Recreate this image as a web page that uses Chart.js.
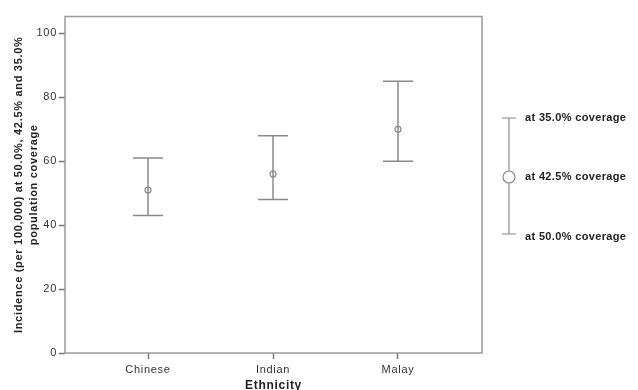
<!DOCTYPE html>
<html>
<head>
<meta charset="utf-8">
<script src="https://cdn.jsdelivr.net/npm/chart.js@4/dist/chart.umd.min.js"></script>
<style>
  html, body { margin: 0; padding: 0; background: #fff; }
  #wrap { width: 638px; height: 390px; position: relative; }
</style>
</head>
<body>
<div id="wrap"><canvas id="chart"></canvas></div>
<script>
const categories = ["Chinese", "Indian", "Malay"];
const incidenceAt425 = [51, 56, 70];   // point marker
const incidenceAt350 = [61, 68, 85];   // upper cap
const incidenceAt500 = [43, 48, 60];   // lower cap
const yTicks = [0, 20, 40, 60, 80, 100];
const legendLabels = ["at 35.0% coverage", "at 42.5% coverage", "at 50.0% coverage"];

const FONT = "'Liberation Sans', Arial, sans-serif";
const barColor = "#8a8a8a";

// SPSS-style text is a little wider than plain Arial
const spacing = {
  id: "spacing",
  beforeDraw(chart) { chart.ctx.letterSpacing = "0.7px"; }
};

const frameAndLegend = {
  id: "frameAndLegend",
  afterDraw(chart) {
    const { ctx, chartArea: a } = chart;
    ctx.save();
    // plot frame
    ctx.strokeStyle = "#9a9a9a";
    ctx.lineWidth = 1.5;
    ctx.strokeRect(a.left, a.top, a.right - a.left, a.bottom - a.top);

    // legend glyph
    const lx = a.right + 27;
    const top = 118, mid = 177, bot = 234;
    ctx.strokeStyle = barColor;
    ctx.lineWidth = 1.2;
    ctx.beginPath();
    ctx.moveTo(lx, top); ctx.lineTo(lx, mid - 6);
    ctx.moveTo(lx, mid + 6); ctx.lineTo(lx, bot);
    ctx.moveTo(lx - 7, top); ctx.lineTo(lx + 7, top);
    ctx.moveTo(lx - 7, bot); ctx.lineTo(lx + 7, bot);
    ctx.stroke();
    ctx.beginPath();
    ctx.arc(lx, mid, 6, 0, Math.PI * 2);
    ctx.stroke();

    ctx.fillStyle = "#222";
    ctx.letterSpacing = "0.35px";
    ctx.font = "bold 11px " + FONT;
    ctx.textBaseline = "middle";
    ctx.textAlign = "left";
    ctx.fillText(legendLabels[0], lx + 16, top);
    ctx.fillText(legendLabels[1], lx + 16, mid);
    ctx.fillText(legendLabels[2], lx + 16, bot + 3);
    ctx.restore();
  }
};

const barSets = categories.map((c, i) => ({
  label: c,
  type: "line",
  data: [{ x: i + 1, y: incidenceAt500[i] }, { x: i + 1, y: incidenceAt350[i] }],
  showLine: true,
  borderColor: barColor,
  borderWidth: 1.5,
  pointStyle: "line",
  pointRadius: 15,
  pointBorderColor: barColor,
  pointBorderWidth: 1.5,
  fill: false
}));

const meanSet = {
  label: "42.5%",
  type: "scatter",
  data: categories.map((c, i) => ({ x: i + 1, y: incidenceAt425[i] })),
  pointStyle: "circle",
  pointRadius: 3,
  pointBorderColor: barColor,
  pointBorderWidth: 1.2,
  pointBackgroundColor: "#fff"
};

new Chart(document.getElementById("chart"), {
  type: "scatter",
  data: { datasets: [...barSets, meanSet] },
  plugins: [spacing, frameAndLegend],
  options: {
    responsive: true,
    maintainAspectRatio: false,
    animation: false,
    events: [],
    layout: { padding: { left: 0, right: 156, top: 16, bottom: 0 } },
    plugins: { legend: { display: false }, tooltip: { enabled: false } },
    scales: {
      x: {
        type: "linear",
        min: 0.336,
        max: 3.672,
        afterBuildTicks: (s) => { s.ticks = categories.map((c, i) => ({ value: i + 1 })); },
        afterFit: (s) => { s.height = 37; },
        ticks: {
          callback: (v) => categories[v - 1],
          color: "#333",
          font: { family: FONT, size: 11 },
          padding: 4,
          maxRotation: 0
        },
        grid: { drawOnChartArea: false, tickLength: 6, color: "#777", tickWidth: 1.5 },
        border: { display: false },
        title: {
          display: true,
          text: "Ethnicity",
          color: "#222",
          font: { family: FONT, size: 12, weight: "bold" },
          padding: { top: 0, bottom: -3 }
        }
      },
      y: {
        min: 0,
        max: 105.3,
        afterBuildTicks: (s) => { s.ticks = yTicks.map((v) => ({ value: v })); },
        afterFit: (s) => { s.width = 65; },
        ticks: {
          color: "#333",
          font: { family: FONT, size: 11 },
          padding: 2
        },
        grid: { drawOnChartArea: false, tickLength: 6, color: "#777", tickWidth: 1.5 },
        border: { display: false },
        title: {
          display: true,
          text: ["Incidence (per 100,000) at 50.0%, 42.5% and 35.0%", "population coverage"],
          color: "#222",
          font: { family: FONT, size: 11, weight: "bold", lineHeight: 1.35 },
          padding: { top: 12, bottom: 0 }
        }
      }
    }
  }
});
</script>
</body>
</html>
